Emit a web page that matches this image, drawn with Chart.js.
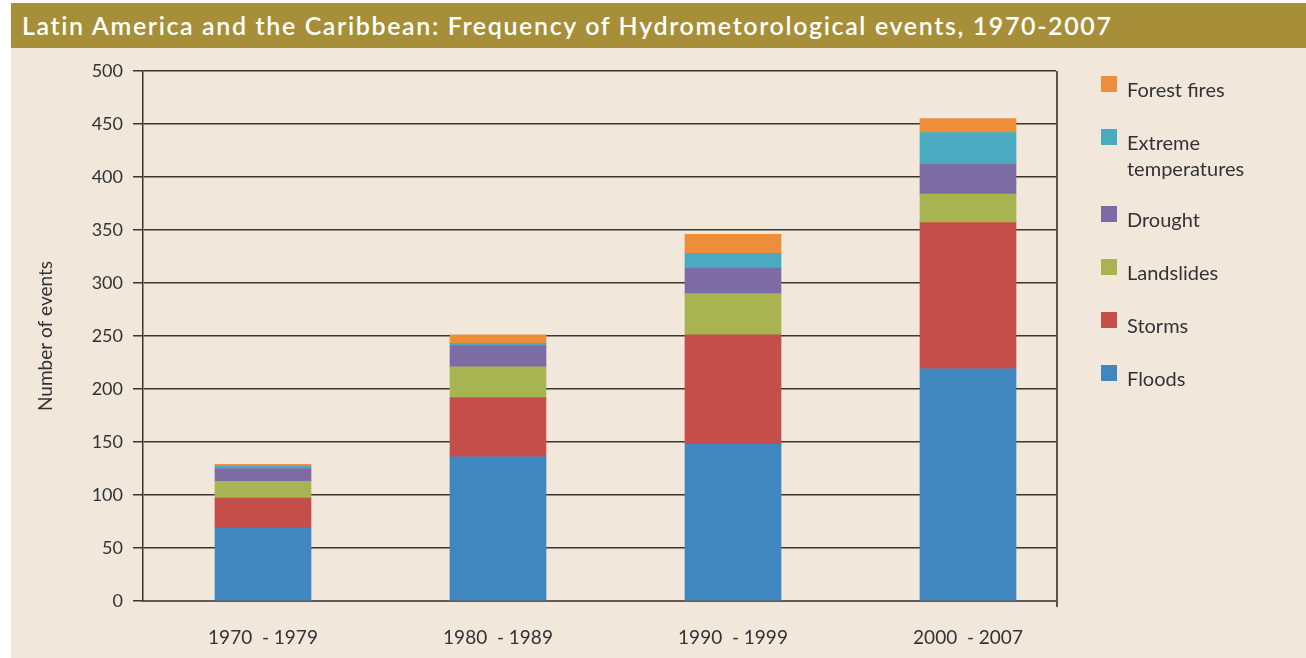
<!DOCTYPE html>
<html><head><meta charset="utf-8">
<script src="https://cdn.jsdelivr.net/npm/chart.js@4"></script>
<style>
html,body{margin:0;padding:0;background:#fff;width:1306px;height:658px;overflow:hidden}
#panel{position:absolute;left:11px;top:3px;width:1295px;height:655px;background:#f1e8db}
#title{position:absolute;left:0;top:0;width:1295px;height:45px;background:#a68f38;color:#fff;font:600 25px Lato,sans-serif;line-height:45px;padding-left:11px;box-sizing:border-box;white-space:nowrap}
#wrap{position:absolute;left:0;top:45px;width:1295px;height:610px}
</style></head>
<body>
<div id="panel">
  <div id="title"><span id="tt">Latin America and the Caribbean: Frequency of Hydrometorological events, 1970-2007</span></div>
  <div id="wrap"><canvas id="c" width="1295" height="610"></canvas></div>
</div>
<script>
const categories = ['1970  - 1979', '1980  - 1989', '1990  - 1999', '2000  - 2007'];
const floods       = [69, 136, 148, 219];
const storms       = [28, 56, 103, 138];
const landslides   = [16, 29, 39, 27];
const drought      = [12, 20, 24, 28];
const extremeTemps = [2, 2, 14, 30];
const forestFires  = [2, 8, 18, 13];
const yMin = 0, yMax = 500, yStep = 50;
const yTitle = 'Number of events';

const seriesNames  = ['Floods', 'Storms', 'Landslides', 'Drought', 'Extreme temperatures', 'Forest fires'];
const seriesValues = [floods, storms, landslides, drought, extremeTemps, forestFires];
const seriesColors = ['#3f87be', '#c64e4a', '#a8b452', '#7d6ba4', '#4aaac1', '#ec8e3b'];

// fit title width to reference
(function(){
  const tt = document.getElementById('tt');
  const target = 1091;
  const w = tt.getBoundingClientRect().width;
  const n = tt.textContent.length;
  tt.style.letterSpacing = ((target - w) / n).toFixed(3) + 'px';
})();

Chart.defaults.font.family = 'Lato, sans-serif';
Chart.defaults.color = '#333';

const legendPlugin = {
  id: 'sideLegend',
  afterDraw(chart) {
    const ctx = chart.ctx;
    ctx.save();
    ctx.font = '20px Lato, sans-serif';
    ctx.fillStyle = '#333';
    ctx.textBaseline = 'alphabetic';
    let top = 28;
    const ds = chart.data.datasets.slice().reverse();
    ds.forEach(d => {
      const words = d.label.split(' ');
      const lines = [];
      let cur = '';
      words.forEach(w => {
        const t = cur ? cur + ' ' + w : w;
        if (ctx.measureText(t).width > 150 && cur) { lines.push(cur); cur = w; } else cur = t;
      });
      lines.push(cur);
      ctx.fillStyle = d.backgroundColor;
      ctx.fillRect(1090, top, 16, 16);
      ctx.fillStyle = '#333';
      lines.forEach((l, k) => ctx.fillText(l, 1116, top + 21 + k * 26));
      top += 53 + (lines.length - 1) * 24;
    });
    ctx.restore();
  }
};

const rightLine = {
  id: 'rightLine',
  afterDatasetsDraw(chart) {
    const {ctx, chartArea} = chart;
    ctx.save();
    ctx.strokeStyle = '#5a544e';
    ctx.lineWidth = 2;
    ctx.beginPath();
    ctx.moveTo(chartArea.right + 1, chartArea.top);
    ctx.lineTo(chartArea.right + 1, chartArea.bottom + 6);
    ctx.stroke();
    ctx.restore();
  }
};

new Chart(document.getElementById('c'), {
  type: 'bar',
  data: {
    datasets: seriesNames.map((name, s) => ({
      label: name,
      data: seriesValues[s].map((v, i) => ({x: i, y: v})),
      backgroundColor: seriesColors[s],
      borderWidth: 0,
      barThickness: 96
    }))
  },
  options: {
    responsive: false,
    devicePixelRatio: 1,
    animation: false,
    layout: {padding: {top: 23, right: 250, left: 0, bottom: 0}},
    plugins: {legend: {display: false}, tooltip: {enabled: false}, title: {display: false}},
    scales: {
      x: {
        type: 'linear',
        stacked: true,
        offset: false,
        min: -0.5106,
        max: 3.3745,
        z: 1,
        afterBuildTicks: (s) => { s.ticks = categories.map((c, i) => ({value: i})); },
        afterFit: (s) => { s.height = 57; },
        ticks: {
          callback: (v) => categories[v] !== undefined ? categories[v] : '',
          autoSkip: false, maxRotation: 0, padding: 25,
          font: {size: 19}, color: '#333'
        },
        grid: {display: false, drawTicks: false, offset: false},
        border: {display: true, color: '#625c56', width: 2}
      },
      y: {
        stacked: true,
        min: yMin, max: yMax,
        afterFit: (s) => { s.width = 132; },
        ticks: {stepSize: yStep, padding: 10, font: {size: 18}, color: '#333'},
        grid: {
          color: (c) => (c.tick && c.tick.value === 0) ? 'rgba(0,0,0,0)' : '#3a3531',
          lineWidth: 1.5, tickLength: 10, tickColor: '#3a3531', drawTicks: true
        },
        border: {display: true, color: '#3a3531', width: 1.5},
        title: {display: true, text: yTitle, font: {size: 19}, color: '#333', padding: {top: 23, bottom: 0}}
      }
    }
  },
  plugins: [legendPlugin, rightLine]
});
</script>
</body></html>
